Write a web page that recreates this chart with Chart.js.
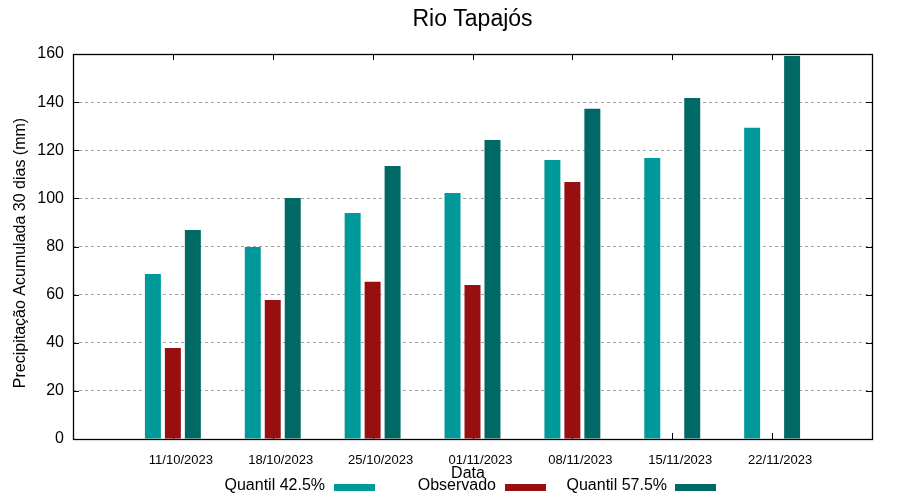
<!DOCTYPE html>
<html>
<head>
<meta charset="utf-8">
<script src="https://cdn.jsdelivr.net/npm/chart.js@4"></script>
<style>
  body { margin: 0; background: #fff; }
  canvas { display: block; }
</style>
</head>
<body>
<canvas id="chart" width="900" height="500"></canvas>
<script>
// dates shown on the x axis (padded with empty slots at both ends)
const dates = ['11/10/2023', '18/10/2023', '25/10/2023', '01/11/2023', '08/11/2023', '15/11/2023', '22/11/2023'];
const quantil425 = [68.6, 79.8, 93.9, 102.2, 116.0, 116.8, 129.3];
const observado = [37.8, 57.8, 65.3, 64.0, 106.8, null, null];
const quantil575 = [86.9, 100.2, 113.5, 124.3, 137.2, 141.7, 159.2];
const yTicks = [0, 20, 40, 60, 80, 100, 120, 140, 160];

const FONT = '"Liberation Sans", Arial, sans-serif';
const pad = arr => [null, ...arr, null];

// gnuplot-ish frame, inward tick marks, title and legend
const gnuplotFrame = {
    id: 'gnuplotFrame',
    beforeDatasetsDraw(chart) {
        const { ctx, chartArea: a, scales: { x, y } } = chart;
        ctx.save();
        ctx.strokeStyle = '#000';
        ctx.lineWidth = 1;
        ctx.beginPath();
        yTicks.forEach(v => {
            const py = Math.round(y.getPixelForValue(v)) + 0.5;
            ctx.moveTo(a.left, py); ctx.lineTo(a.left + 6, py);
            ctx.moveTo(a.right, py); ctx.lineTo(a.right - 6, py);
        });
        dates.forEach((d, i) => {
            const px = Math.round(x.getPixelForValue(i + 1)) + 0.5;
            ctx.moveTo(px, a.top); ctx.lineTo(px, a.top + 6);
            ctx.moveTo(px, a.bottom); ctx.lineTo(px, a.bottom - 6);
        });
        ctx.stroke();
        ctx.restore();
    },
    afterDraw(chart) {
        const { ctx, chartArea: a } = chart;
        ctx.save();
        ctx.strokeStyle = '#000';
        ctx.lineWidth = 1.3;
        ctx.strokeRect(Math.round(a.left) + 0.5, Math.round(a.top) + 0.5,
            Math.round(a.right - a.left), Math.round(a.bottom - a.top));

        ctx.fillStyle = '#000';
        ctx.textAlign = 'center';
        ctx.textBaseline = 'middle';
        ctx.font = '23px ' + FONT;
        ctx.fillText('Rio Tapajós', (a.left + a.right) / 2, 20);

        ctx.font = '16px ' + FONT;
        ctx.fillText('Data', 468, 474);

        ctx.save();
        ctx.translate(21, 253);
        ctx.rotate(-Math.PI / 2);
        ctx.fillText('Precipitação Acumulada 30 dias (mm)', 0, 0);
        ctx.restore();

        // legend: text right-aligned, sample box after it
        const legendPos = [[325, 334], [496, 505], [667, 675]];
        ctx.textAlign = 'right';
        chart.data.datasets.forEach((ds, i) => {
            const [tx, sx] = legendPos[i];
            ctx.fillStyle = '#000';
            ctx.fillText(ds.label, tx, 486);
            ctx.fillStyle = ds.backgroundColor;
            ctx.fillRect(sx, 484, 41, 7);
        });
        ctx.restore();
    }
};

new Chart(document.getElementById('chart'), {
    type: 'bar',
    data: {
        labels: pad(dates).map(d => d || ''),
        datasets: [
            { label: 'Quantil 42.5%', data: pad(quantil425), backgroundColor: '#009999' },
            { label: 'Observado', data: pad(observado), backgroundColor: '#990f0f' },
            { label: 'Quantil 57.5%', data: pad(quantil575), backgroundColor: '#006966' }
        ]
    },
    options: {
        responsive: false,
        animation: false,
        devicePixelRatio: 1,
        categoryPercentage: 0.6,
        barPercentage: 0.8,
        layout: { padding: { left: 0, right: 28, top: 54, bottom: 0 } },
        plugins: {
            legend: { display: false },
            title: { display: false },
            tooltip: { enabled: false }
        },
        scales: {
            x: {
                offset: false,
                grid: { display: false, drawTicks: false },
                border: { display: false },
                ticks: {
                    autoSkip: false,
                    maxRotation: 0,
                    padding: 14,
                    labelOffset: 8,
                    color: '#000',
                    font: { family: FONT, size: 13 }
                },
                afterFit: s => { s.height = 61; }
            },
            y: {
                min: 0,
                max: 160,
                grid: { color: '#a0a0a0', lineWidth: 1, drawTicks: false },
                border: { display: false, dash: [3, 3] },
                ticks: {
                    stepSize: 20,
                    padding: 9,
                    color: '#000',
                    font: { family: FONT, size: 16 }
                },
                afterFit: s => { s.width = 73; }
            }
        }
    },
    plugins: [gnuplotFrame]
});
</script>
</body>
</html>
